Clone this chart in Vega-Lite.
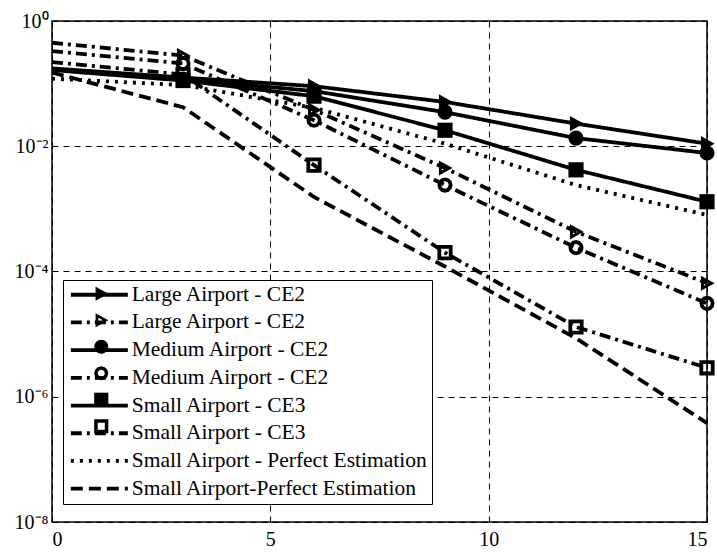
{
  "$schema": "https://vega.github.io/schema/vega-lite/v6.json",
  "width": 655,
  "height": 501,
  "autosize": {"type": "none"},
  "padding": {"left": 52, "top": 21, "right": 10, "bottom": 32},
  "background": "white",
  "config": {
    "view": {"stroke": "black", "strokeWidth": 1.5},
    "font": "Liberation Serif",
    "axis": {
      "labelFont": "Liberation Serif",
      "labelFontSize": 20,
      "labelColor": "black",
      "domain": false,
      "ticks": false,
      "grid": true,
      "gridColor": "black",
      "gridDash": [6, 5],
      "gridWidth": 1,
      "gridOpacity": 1
    }
  },
  "data": {
    "values": [
      {"k": "1", "x": 0, "y": 0.175}, {"k": "1", "x": 3, "y": 0.125}, {"k": "1", "x": 6, "y": 0.091}, {"k": "1", "x": 9, "y": 0.051}, {"k": "1", "x": 12, "y": 0.023}, {"k": "1", "x": 15, "y": 0.011},
      {"k": "2", "x": 0, "y": 0.45}, {"k": "2", "x": 3, "y": 0.28}, {"k": "2", "x": 6, "y": 0.038}, {"k": "2", "x": 9, "y": 0.0045}, {"k": "2", "x": 12, "y": 0.00043}, {"k": "2", "x": 15, "y": 0.000065},
      {"k": "3", "x": 0, "y": 0.17}, {"k": "3", "x": 3, "y": 0.118}, {"k": "3", "x": 6, "y": 0.076}, {"k": "3", "x": 9, "y": 0.035}, {"k": "3", "x": 12, "y": 0.0135}, {"k": "3", "x": 15, "y": 0.0078},
      {"k": "4", "x": 0, "y": 0.33}, {"k": "4", "x": 3, "y": 0.21}, {"k": "4", "x": 6, "y": 0.026}, {"k": "4", "x": 9, "y": 0.0024}, {"k": "4", "x": 12, "y": 0.00024}, {"k": "4", "x": 15, "y": 0.000031},
      {"k": "5", "x": 0, "y": 0.165}, {"k": "5", "x": 3, "y": 0.112}, {"k": "5", "x": 6, "y": 0.063}, {"k": "5", "x": 9, "y": 0.018}, {"k": "5", "x": 12, "y": 0.0042}, {"k": "5", "x": 15, "y": 0.0013},
      {"k": "6", "x": 0, "y": 0.22}, {"k": "6", "x": 3, "y": 0.14}, {"k": "6", "x": 6, "y": 0.005}, {"k": "6", "x": 9, "y": 0.0002}, {"k": "6", "x": 12, "y": 0.000013}, {"k": "6", "x": 15, "y": 0.0000029},
      {"k": "7", "x": 0, "y": 0.12}, {"k": "7", "x": 3, "y": 0.095}, {"k": "7", "x": 6, "y": 0.041}, {"k": "7", "x": 9, "y": 0.011}, {"k": "7", "x": 12, "y": 0.0024}, {"k": "7", "x": 15, "y": 0.0008},
      {"k": "8", "x": 0, "y": 0.15}, {"k": "8", "x": 3, "y": 0.042}, {"k": "8", "x": 6, "y": 0.00155}, {"k": "8", "x": 9, "y": 0.00012}, {"k": "8", "x": 12, "y": 0.0000086}, {"k": "8", "x": 15, "y": 0.00000038}
    ]
  },
  "layer": [
    {
      "mark": {"type": "line", "strokeWidth": 3.8, "color": "black", "clip": true},
      "encoding": {
        "x": {"field": "x", "type": "quantitative", "scale": {"domain": [0, 15], "nice": false}, "axis": {"values": [0, 5, 10, 15], "title": null, "labelPadding": 7}},
        "y": {"field": "y", "type": "quantitative", "scale": {"type": "log", "domain": [1e-8, 1], "nice": false}, "axis": {"values": [1e-8, 1e-6, 1e-4, 1e-2, 1], "title": null, "labelPadding": 4, "labelExpr": "['10⁻⁸','','10⁻⁶','','10⁻⁴','','10⁻²','','10⁰'][round(log(datum.value)/LN10)+8]"}},
        "strokeDash": {
          "field": "k", "type": "nominal",
          "scale": {"domain": ["1", "2", "3", "4", "5", "6", "7", "8"], "range": [[1, 0], [11, 5, 3, 5], [1, 0], [11, 5, 3, 5], [1, 0], [11, 5, 3, 5], [3, 6], [12, 6]]},
          "legend": {
            "orient": "none", "legendX": 11, "legendY": 259, "title": null,
            "symbolType": "M-3.5,0H3.5", "symbolSize": 265, "symbolStrokeWidth": 3.8, "symbolStrokeColor": "black",
            "symbolOffset": 21.6,
            "labelFont": "Liberation Serif", "labelFontSize": 21.5, "labelColor": "black", "labelLimit": 400, "labelOffset": 21.6,
            "labelExpr": "['','Large Airport - CE2','Large Airport - CE2','Medium Airport - CE2','Medium Airport - CE2','Small Airport - CE3','Small Airport - CE3','Small Airport - Perfect Estimation','Small Airport-Perfect Estimation'][toNumber(datum.label)]",
            "padding": 4, "rowPadding": 4.7, "strokeColor": "black", "fillColor": "white", "zindex": 1
          }
        }
      }
    },
    {
      "transform": [{"filter": "datum.x > 0"}],
      "mark": {"type": "point", "filled": true, "color": "black", "strokeWidth": 0, "size": 230, "opacity": 1, "clip": false},
      "encoding": {
        "x": {"field": "x", "type": "quantitative"},
        "y": {"field": "y", "type": "quantitative"},
        "shape": {
          "field": "k", "type": "nominal",
          "scale": {"range": [
            "M-0.8,-1L1,0L-0.8,1Z",
            "M-0.8,-1L1,0L-0.8,1Z M-0.41,-0.35L-0.41,0.35L0.22,0Z",
            "circle",
            "M1,0L0.866,0.5L0.5,0.866L0,1L-0.5,0.866L-0.866,0.5L-1,0L-0.866,-0.5L-0.5,-0.866L0,-1L0.5,-0.866L0.866,-0.5Z M0.5,0L0.433,-0.25L0.25,-0.433L0,-0.5L-0.25,-0.433L-0.433,-0.25L-0.5,0L-0.433,0.25L-0.25,0.433L0,0.5L0.25,0.433L0.433,0.25Z",
            "square",
            "M-1,-1H1V1H-1Z M-0.5,-0.5V0.5H0.5V-0.5Z",
            "M0,0",
            "M0,0"
          ]},
          "legend": {
            "orient": "none", "legendX": 38.5, "legendY": 262, "title": null,
            "symbolSize": 200, "symbolStrokeWidth": 0, "symbolFillColor": "black", "symbolOpacity": 1,
            "labelFont": "Liberation Serif", "labelFontSize": 21.5, "labelOpacity": 0, "labelLimit": 400, "labelOffset": 4,
            "labelExpr": "['','Large Airport - CE2','Large Airport - CE2','Medium Airport - CE2','Medium Airport - CE2','Small Airport - CE3','Small Airport - CE3','Small Airport - Perfect Estimation','Small Airport-Perfect Estimation'][toNumber(datum.label)]",
            "padding": 0, "rowPadding": 3.5, "zindex": 2
          }
        }
      }
    }
  ]
}
